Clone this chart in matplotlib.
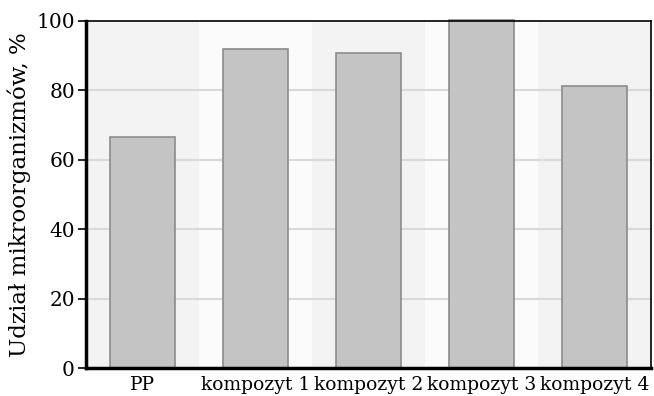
import matplotlib
matplotlib.use("Agg")
import matplotlib.pyplot as plt

categories = ["PP", "kompozyt 1", "kompozyt 2", "kompozyt 3", "kompozyt 4"]
values = [66.6, 92.0, 90.7, 100.2, 81.3]
yticks = [0, 20, 40, 60, 80, 100]

plt.rcParams['font.family'] = ['DejaVu Serif']

fig = plt.figure(figsize=(6.54, 3.96), dpi=100)
ax = fig.add_axes([86/654, 1 - 368/396, (651-86)/654, (368-21)/396])

x = list(range(len(categories)))
for i in x:
    ax.axvspan(i - 0.5, i + 0.5, color="#f3f3f3" if i % 2 == 0 else "#fbfbfb", zorder=0, lw=0)

for t in yticks[1:-1]:
    ax.axhline(t, color="#d9d9d9", lw=1.5, zorder=1)

ax.bar(x, values, width=0.57, color="#c4c4c4", edgecolor="#8c8c8c", linewidth=1.2, zorder=2, clip_on=False)

ax.set_xlim(-0.5, len(categories) - 0.5)
ax.set_ylim(0, 100)
ax.set_yticks(yticks)
ax.set_yticklabels([str(v) for v in yticks], fontsize=14.5)
ax.set_xticks(x)
ax.set_xticklabels(categories, fontsize=13.5)
ax.tick_params(axis='x', length=0, pad=6)
ax.tick_params(axis='y', length=6, width=1.2, direction='out', pad=2)

for s in ['top', 'right']:
    ax.spines[s].set_linewidth(1.2)
for s in ['left', 'bottom']:
    ax.spines[s].set_linewidth(2.5)
ax.spines['bottom'].set_zorder(5)

ax.set_ylabel("Udział mikroorganizmów, %", fontsize=16.5, labelpad=4)

fig.savefig("out.png", dpi=100)
